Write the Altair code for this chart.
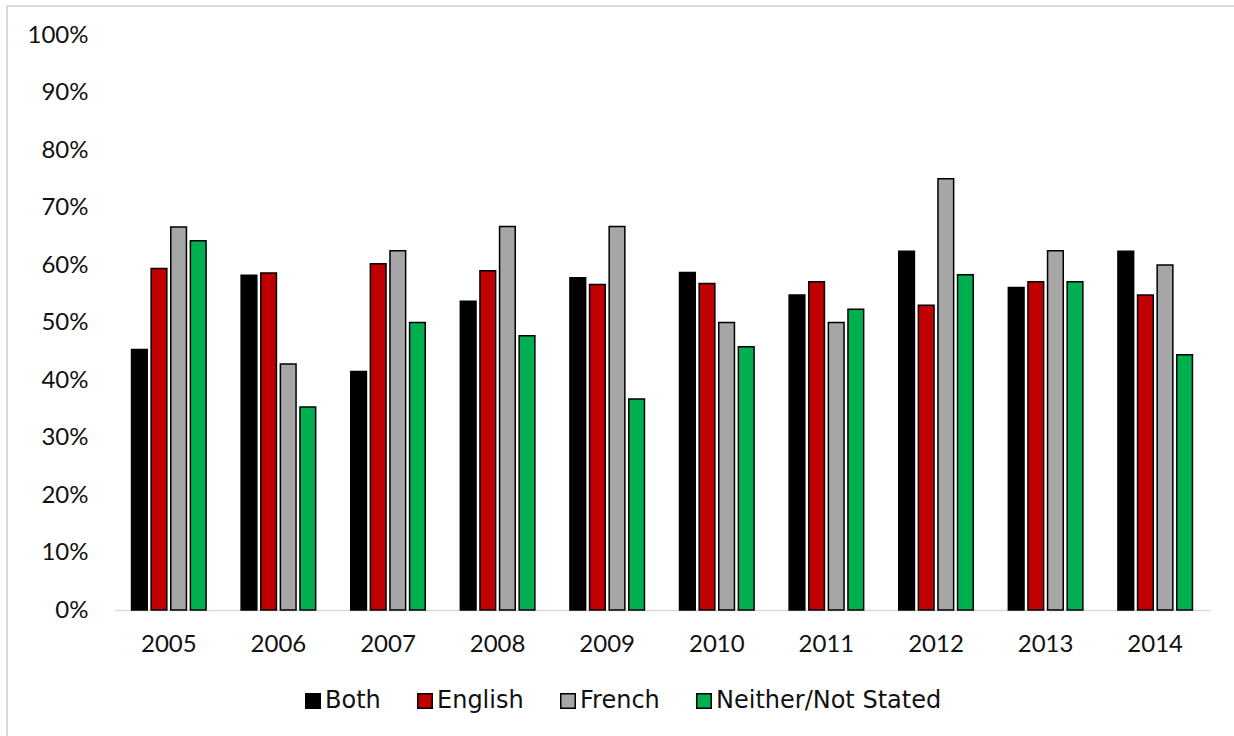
import altair as alt
import pandas as pd

years = ["2005", "2006", "2007", "2008", "2009", "2010", "2011", "2012", "2013", "2014"]
series = ["Both", "English", "French", "Neither/Not Stated"]
both = [45.3, 58.2, 41.5, 53.7, 57.8, 58.7, 54.8, 62.4, 56.1, 62.4]
english = [59.4, 58.6, 60.2, 59.0, 56.6, 56.8, 57.1, 53.0, 57.1, 54.8]
french = [66.6, 42.8, 62.5, 66.7, 66.7, 50.0, 50.0, 75.0, 62.5, 60.0]
neither = [64.2, 35.3, 50.0, 47.7, 36.7, 45.8, 52.3, 58.3, 57.1, 44.4]
colors = ["#000000", "#C00000", "#A6A6A6", "#00B050"]

rows = []
for name, vals in zip(series, [both, english, french, neither]):
    for y, v in zip(years, vals):
        rows.append({"year": y, "series": name, "value": v / 100})
df = pd.DataFrame(rows)

FONT = "Lato"
LFONT = "DejaVu Sans"
TXT = "#111111"

bars = alt.Chart(df).mark_bar(stroke="#000000", strokeWidth=1.5).encode(
    x=alt.X("year:N", sort=years, title=None,
            scale=alt.Scale(paddingInner=0.32, paddingOuter=0.16),
            axis=alt.Axis(labelAngle=0, ticks=False, domainColor="#D9D9D9", domainWidth=1.5,
                          labelPadding=22, labelFontSize=24, labelFont=FONT, labelColor=TXT)),
    xOffset=alt.XOffset("series:N", sort=series, scale=alt.Scale(paddingInner=0.2)),
    y=alt.Y("value:Q", title=None,
            scale=alt.Scale(domain=[0, 1]),
            axis=alt.Axis(format=".0%", values=[i / 10 for i in range(11)], grid=False,
                          ticks=False, domain=False, labelPadding=26,
                          labelFontSize=24, labelFont=FONT, labelColor=TXT)),
    color=alt.Color("series:N", sort=series,
                    scale=alt.Scale(domain=series, range=colors),
                    legend=alt.Legend(title=None, orient="none", legendX=187, legendY=654,
                                      direction="horizontal", symbolType="square", symbolSize=210,
                                      symbolStrokeColor="#000000", symbolStrokeWidth=1.5,
                                      labelFontSize=24, labelFont=LFONT, labelColor=TXT,
                                      labelLimit=400, labelOffset=0, columnPadding=32)),
)

border = alt.Chart(alt.Data(values=[{}])).mark_rect(
    fillOpacity=0, stroke="#D9D9D9", strokeWidth=2
).encode(
    x=alt.value(-107), x2=alt.value(1150), y=alt.value(-29), y2=alt.value(720)
)

chart = alt.layer(bars, border).properties(
    width=1096, height=575,
    autosize=alt.AutoSizeParams(type="none"),
    padding={"left": 114, "top": 35, "right": 24, "bottom": 126},
    background="white",
).configure_view(strokeWidth=0)

chart.save("out.html", embed_options={"renderer": "svg", "actions": False})
